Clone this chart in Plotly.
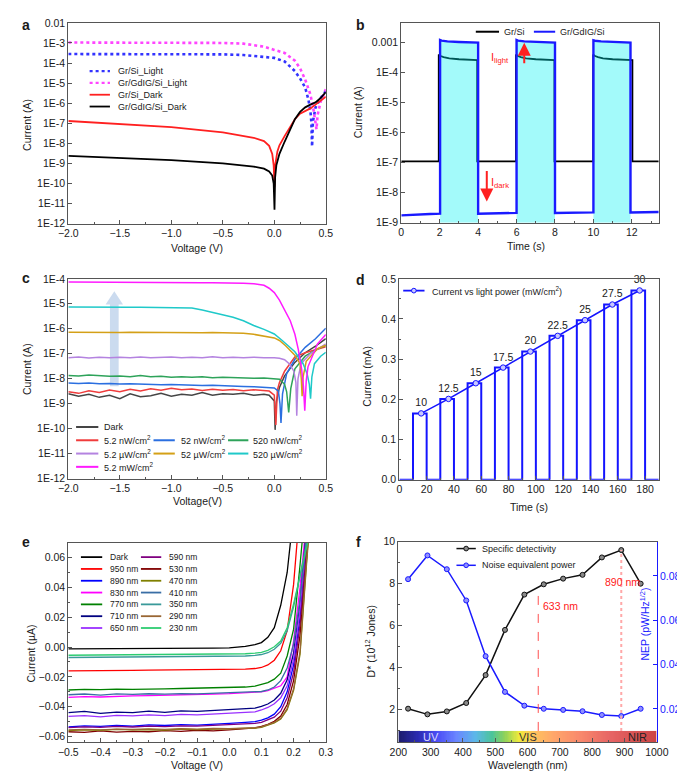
import numpy as np
import plotly.graph_objects as go

W, H = 685, 772
FONT = "Liberation Sans, Arial, Helvetica, sans-serif"
INK = "#1a1a1a"
AXC = "#555555"

# ======================= DATA =======================
# ---- (a) I-V curves (log) ----
a_names = ["Gr/Si_Light", "Gr/GdIG/Si_Light", "Gr/Si_Dark", "Gr/GdIG/Si_Dark"]
a_v_si_light = [-2.0, -1.5, -1.0, -0.5, -0.3, -0.1, 0.0, 0.1, 0.2, 0.25, 0.3, 0.33, 0.35, 0.36, 0.367, 0.375, 0.4, 0.45, 0.5]
a_i_si_light = [2.8e-4, 2.8e-4, 2.8e-4, 2.7e-4, 2.5e-4, 2.1e-4, 1.8e-4, 1.2e-4, 4.0e-5, 1.7e-5, 6.0e-6, 1.6e-6, 4.5e-7, 1.1e-7, 7e-9, 1.2e-7, 6e-7, 1.8e-6, 4e-6]
a_v_gd_light = [-2.0, -1.5, -1.0, -0.5, -0.3, -0.2, -0.1, 0.0, 0.1, 0.2, 0.25, 0.3, 0.35, 0.38, 0.4, 0.41, 0.42, 0.45, 0.5]
a_i_gd_light = [1.05e-3, 1.05e-3, 1.04e-3, 1.0e-3, 9.2e-4, 8.0e-4, 6.5e-4, 4.5e-4, 3.2e-4, 1.3e-4, 5.5e-5, 1.5e-5, 2.8e-6, 5e-7, 1.1e-7, 5e-8, 2.5e-7, 1.2e-6, 5e-6]
a_v_si_dark = [-2.0, -1.5, -1.0, -0.5, -0.3, -0.2, -0.1, -0.05, -0.02, -0.006, 0.002, 0.01, 0.03, 0.05, 0.1, 0.15, 0.2, 0.25, 0.3, 0.35, 0.4, 0.45, 0.5]
a_i_si_dark = [1.3e-7, 9.5e-8, 6.5e-8, 3.5e-8, 2.4e-8, 1.9e-8, 1.3e-8, 7.5e-9, 3e-9, 8e-10, 7e-11, 9e-10, 4e-9, 8e-9, 2.3e-8, 6e-8, 1.6e-7, 3e-7, 4.2e-7, 5.5e-7, 8.5e-7, 1.3e-6, 2.1e-6]
a_v_gd_dark = [-2.0, -1.5, -1.0, -0.5, -0.3, -0.2, -0.1, -0.05, -0.02, -0.006, 0.002, 0.008, 0.02, 0.05, 0.1, 0.15, 0.2, 0.25, 0.3, 0.35, 0.4, 0.45, 0.5]
a_i_gd_dark = [2.4e-9, 1.9e-9, 1.45e-9, 1.0e-9, 8.2e-10, 7e-10, 5.5e-10, 4e-10, 2.5e-10, 1e-10, 5e-12, 2e-10, 8e-10, 3e-9, 1.2e-8, 4.5e-8, 1.6e-7, 3.7e-7, 6.2e-7, 8.5e-7, 1.1e-6, 1.8e-6, 3.6e-6]
a_ytick_vals = [1e-12, 1e-11, 1e-10, 1e-9, 1e-8, 1e-7, 1e-6, 1e-5, 1e-4, 1e-3, 1e-2]
a_ytick_text = ["1E-12", "1E-11", "1E-10", "1E-9", "1E-8", "1E-7", "1E-6", "1E-5", "1E-4", "1E-3", "0.01"]

# ---- (b) on/off switching ----
b_names = ["Gr/Si", "Gr/GdIG/Si"]
b_t_black = [0, 1.95, 1.95, 2.05, 2.2, 2.5, 3.0, 3.5, 3.95, 3.95, 5.97, 5.97, 6.07, 6.22, 6.5, 7.0, 7.5, 7.97, 7.97,
             9.99, 9.99, 10.09, 10.24, 10.5, 11.0, 11.5, 12.03, 12.03, 13.4]
b_i_black = [1.1e-7, 1.1e-7, 4.0e-4, 3.6e-4, 3.3e-4, 3.0e-4, 2.8e-4, 2.7e-4, 2.6e-4, 1.1e-7, 1.1e-7, 4.0e-4, 3.6e-4, 3.3e-4, 3.0e-4, 2.8e-4, 2.7e-4, 2.6e-4, 1.1e-7,
             1.1e-7, 4.0e-4, 3.6e-4, 3.3e-4, 3.0e-4, 2.8e-4, 2.7e-4, 2.6e-4, 1.1e-7, 1.1e-7]
b_t_blue = [0, 0.5, 1.0, 1.5, 2.02, 2.02, 2.1, 2.4, 3.0, 3.5, 4.0, 4.0, 4.5, 5.0, 5.5, 6.0, 6.0, 6.08, 6.4, 7.0, 7.5, 8.0,
            8.0, 8.5, 9.0, 9.5, 10.0, 10.0, 10.08, 10.4, 11.0, 11.5, 11.93, 11.93, 12.5, 13.0, 13.4]
b_i_blue = [1.75e-9, 1.85e-9, 1.9e-9, 1.95e-9, 2.0e-9, 1.22e-3, 1.17e-3, 1.1e-3, 1.05e-3, 1.02e-3, 1.0e-3, 2.0e-9, 2.05e-9, 2.08e-9, 2.1e-9, 2.12e-9,
            1.22e-3, 1.17e-3, 1.1e-3, 1.05e-3, 1.02e-3, 1.0e-3, 2.1e-9, 2.12e-9, 2.15e-9, 2.18e-9, 2.2e-9, 1.2e-3, 1.16e-3, 1.1e-3, 1.05e-3, 1.02e-3, 1.0e-3,
            2.2e-9, 2.22e-9, 2.25e-9, 2.28e-9]
b_ytick_vals = [1e-9, 1e-8, 1e-7, 1e-6, 1e-5, 1e-4, 1e-3]
b_ytick_text = ["1E-9", "1E-8", "1E-7", "1E-6", "1E-5", "1E-4", "0.001"]

# ---- (c) I-V under various intensities (log) ----
c_names = ["Dark", "5.2 nW/cm<sup>2</sup>", "52 nW/cm<sup>2</sup>", "520 nW/cm<sup>2</sup>", "5.2 µW/cm<sup>2</sup>",
           "52 µW/cm<sup>2</sup>", "520 µW/cm<sup>2</sup>", "5.2 mW/cm<sup>2</sup>"]
c_v_flat = [-2.0, -1.9, -1.8, -1.7, -1.6, -1.5, -1.4, -1.3, -1.2, -1.1, -1.0, -0.9, -0.8, -0.7, -0.6, -0.5, -0.4, -0.3, -0.2, -0.1]
c_dark_flat = [2.5e-9, 2.0e-9, 2.4e-9, 1.8e-9, 2.2e-9, 1.6e-9, 2.5e-9, 1.9e-9, 2.1e-9, 2.6e-9, 2.0e-9, 2.4e-9, 2.2e-9, 2.8e-9, 2.2e-9, 2.5e-9, 2.4e-9, 2.6e-9, 2.2e-9, 2.4e-9]
c_dark_vt = [-0.05, 0.0, 0.008, 0.02, 0.05, 0.1, 0.2, 0.3, 0.4, 0.5]
c_dark_it = [2.2e-9, 1.3e-9, 9e-11, 1.2e-9, 4.5e-9, 1.3e-8, 4.5e-8, 1.1e-7, 2e-7, 4e-7]
c_n5_flat = [3.0e-9, 2.6e-9, 3.3e-9, 2.8e-9, 3.5e-9, 3.0e-9, 3.8e-9, 3.2e-9, 4.0e-9, 3.5e-9, 4.2e-9, 3.6e-9, 3.9e-9, 3.4e-9, 3.8e-9, 3.5e-9, 3.7e-9, 3.3e-9, 3.6e-9, 3.4e-9]
c_n5_vt = [-0.05, 0.0, 0.015, 0.03, 0.05, 0.1, 0.2, 0.3, 0.4, 0.5]
c_n5_it = [3.2e-9, 2.2e-9, 1.4e-10, 3.5e-9, 7e-9, 2e-8, 7.5e-8, 1.1e-7, 1.4e-7, 1.9e-7]
c_n52_flat = [6.8e-9, 6.5e-9, 6.7e-9, 6.3e-9, 6.5e-9, 6.1e-9, 6.3e-9, 6.0e-9, 6.1e-9, 5.8e-9, 5.9e-9, 5.6e-9, 5.7e-9, 5.4e-9, 5.5e-9, 5.2e-9, 5.1e-9, 4.9e-9, 4.8e-9, 4.6e-9]
c_n52_vt = [-0.05, 0.0, 0.04, 0.055, 0.065, 0.08, 0.12, 0.2, 0.3, 0.4, 0.5]
c_n52_it = [4.5e-9, 4.3e-9, 3.2e-9, 1e-9, 1.7e-10, 2.5e-9, 1.6e-8, 6e-8, 1.8e-7, 4e-7, 1.05e-6]
c_n520_flat = [1.35e-8, 1.3e-8, 1.4e-8, 1.3e-8, 1.25e-8, 1.3e-8, 1.2e-8, 1.35e-8, 1.2e-8, 1.25e-8, 1.15e-8, 1.2e-8, 1.15e-8, 1.2e-8, 1.1e-8, 1.15e-8, 1.1e-8, 1.12e-8, 1.05e-8, 1.08e-8]
c_n520_vt = [-0.05, 0.0, 0.05, 0.1, 0.12, 0.14, 0.16, 0.2, 0.3, 0.4, 0.5]
c_n520_it = [1.05e-8, 1.0e-8, 9.5e-9, 6e-9, 3e-9, 4.5e-10, 4e-9, 2.5e-8, 8e-8, 1.4e-7, 2.2e-7]
c_u5_flat = [7.0e-8, 7.4e-8, 6.8e-8, 7.2e-8, 6.9e-8, 7.3e-8, 7.0e-8, 7.5e-8, 6.9e-8, 7.1e-8, 7.4e-8, 7.0e-8, 7.3e-8, 6.9e-8, 7.6e-8, 7.0e-8, 7.2e-8, 6.9e-8, 7.3e-8, 7.0e-8]
c_u5_vt = [-0.05, 0.0, 0.05, 0.1, 0.15, 0.19, 0.21, 0.218, 0.23, 0.26, 0.35, 0.5]
c_u5_it = [7.1e-8, 6.9e-8, 6.6e-8, 5.8e-8, 3.8e-8, 2e-8, 7e-9, 3.3e-10, 1e-8, 4e-8, 1e-7, 2.5e-7]
c_u52_flat = [7.3e-7, 7.2e-7, 7.4e-7, 7.2e-7, 7.3e-7, 7.1e-7, 7.3e-7, 7.2e-7, 7.2e-7, 7.1e-7, 7.2e-7, 7.1e-7, 7.1e-7, 7.0e-7, 7.1e-7, 7.0e-7, 6.9e-7, 6.6e-7, 6.0e-7, 5.2e-7]
c_u52_vt = [-0.05, 0.0, 0.05, 0.11, 0.2, 0.25, 0.262, 0.27, 0.28, 0.31, 0.42, 0.5]
c_u52_it = [4.8e-7, 4.3e-7, 3.4e-7, 2.1e-7, 8.7e-8, 4e-8, 1e-8, 2e-9, 1.2e-8, 5e-8, 1.6e-7, 2.2e-7]
c_u520_flat = [7.4e-6, 7.3e-6, 7.4e-6, 7.3e-6, 7.4e-6, 7.3e-6, 7.2e-6, 7.3e-6, 7.2e-6, 7.3e-6, 7.2e-6, 7.2e-6, 6.8e-6, 5.6e-6, 4.5e-6, 3.6e-6, 2.9e-6, 2.1e-6, 1.35e-6, 9.5e-7]
c_u520_vt = [-0.05, 0.0, 0.077, 0.2, 0.28, 0.32, 0.34, 0.352, 0.365, 0.39, 0.45, 0.5]
c_u520_it = [7.5e-7, 6.2e-7, 3.4e-7, 1.2e-7, 4e-8, 1.5e-8, 6e-9, 1.6e-9, 1.2e-8, 4e-8, 8e-8, 1.15e-7]
c_m5_flat = [7.4e-5, 7.4e-5, 7.3e-5, 7.3e-5, 7.3e-5, 7.2e-5, 7.2e-5, 7.2e-5, 7.1e-5, 7.1e-5, 7.1e-5, 7.0e-5, 7.0e-5, 7.0e-5, 6.9e-5, 6.9e-5, 6.8e-5, 6.7e-5, 6.4e-5, 5.5e-5]
c_m5_vt = [-0.05, 0.0, 0.05, 0.1, 0.155, 0.2, 0.233, 0.265, 0.283, 0.296, 0.31, 0.327, 0.42, 0.5]
c_m5_it = [4.2e-5, 2.8e-5, 1.4e-5, 6e-6, 2.1e-6, 6e-7, 1.5e-7, 2.5e-8, 5e-9, 5.2e-10, 8e-9, 3e-8, 2.5e-7, 5.9e-7]
c_colors = ["#454545", "#f03c3c", "#2b6fe0", "#2ea35a", "#b483e0", "#d4a017", "#1fc9c9", "#ff1aff"]
c_ytick_vals = [1e-12, 1e-11, 1e-10, 1e-9, 1e-8, 1e-7, 1e-6, 1e-5, 1e-4]
c_ytick_text = ["1E-12", "1E-11", "1E-10", "1E-9", "1E-8", "1E-7", "1E-6", "1E-5", "1E-4"]

# ---- (d) current vs light power ----
d_t = [0, 10, 10, 20, 20, 30, 30, 40, 40, 50, 50, 60, 60, 70, 70, 80, 80, 90, 90, 100, 100, 110, 110, 120, 120,
       130, 130, 140, 140, 150, 150, 160, 160, 170, 170, 180, 180, 190]
d_i = [0, 0, 0.165, 0.165, 0, 0, 0.201, 0.201, 0, 0, 0.240, 0.240, 0, 0, 0.279, 0.279, 0, 0, 0.319, 0.319, 0, 0,
       0.358, 0.358, 0, 0, 0.397, 0.397, 0, 0, 0.436, 0.436, 0, 0, 0.471, 0.471, 0, 0]
d_power = [10, 12.5, 15, 17.5, 20, 22.5, 25, 27.5, 30]
d_mark_t = [16, 36, 56, 76, 96, 116, 136, 156, 176]
d_mark_i = [0.165, 0.201, 0.240, 0.279, 0.319, 0.358, 0.397, 0.436, 0.471]

# ---- (e) I-V at different wavelengths (linear) ----
e_v = [-0.5, -0.45, -0.4, -0.35, -0.3, -0.25, -0.2, -0.15, -0.1, -0.05, 0.0, 0.05, 0.08, 0.1, 0.12, 0.14, 0.16, 0.18, 0.2, 0.22, 0.24, 0.26]
e_dark = [-0.0012, -0.0012, -0.0011, -0.0011, -0.0010, -0.0010, -0.0009, -0.0009, -0.0008, -0.0007, -0.0005, 0.0004, 0.0016, 0.003, 0.0065, 0.013, 0.028, 0.050, 0.090, 0.14, 0.2, 0.26]
e_950 = [-0.0160, -0.0158, -0.0157, -0.0158, -0.0156, -0.0155, -0.0154, -0.0155, -0.0153, -0.0152, -0.0150, -0.0148, -0.0144, -0.0137, -0.0120, -0.0088, -0.0025, 0.0110, 0.042, 0.095, 0.15, 0.2]
e_890 = [-0.0535, -0.0528, -0.0532, -0.0525, -0.0530, -0.0522, -0.0526, -0.0520, -0.0523, -0.0515, -0.0512, -0.0505, -0.0500, -0.0490, -0.0475, -0.0450, -0.0400, -0.0300, -0.0120, 0.020, 0.075, 0.13]
e_830 = [-0.0338, -0.0332, -0.0335, -0.0330, -0.0328, -0.0326, -0.0322, -0.0320, -0.0318, -0.0315, -0.0312, -0.0308, -0.0305, -0.0300, -0.0292, -0.0278, -0.0260, -0.0200, 0.0040, 0.040, 0.085, 0.13]
e_770 = [-0.0288, -0.0284, -0.0286, -0.0282, -0.0284, -0.0280, -0.0281, -0.0278, -0.0276, -0.0274, -0.0272, -0.0268, -0.0262, -0.0252, -0.0238, -0.0215, -0.0175, -0.0060, 0.012, 0.055, 0.10, 0.15]
e_710 = [-0.0440, -0.0432, -0.0445, -0.0436, -0.0440, -0.0430, -0.0438, -0.0428, -0.0432, -0.0425, -0.0420, -0.0415, -0.0410, -0.0398, -0.0382, -0.0355, -0.0310, -0.0220, -0.0040, 0.030, 0.080, 0.13]
e_650 = [-0.0465, -0.0460, -0.0468, -0.0458, -0.0462, -0.0455, -0.0460, -0.0452, -0.0455, -0.0450, -0.0446, -0.0440, -0.0435, -0.0422, -0.0405, -0.0380, -0.0340, -0.0260, -0.0080, 0.025, 0.075, 0.125]
e_590 = [-0.0540, -0.0535, -0.0538, -0.0532, -0.0536, -0.0530, -0.0533, -0.0528, -0.0530, -0.0525, -0.0522, -0.0518, -0.0512, -0.0505, -0.0490, -0.0470, -0.0430, -0.0340, -0.0170, 0.015, 0.065, 0.12]
e_530 = [-0.0568, -0.0572, -0.0562, -0.0570, -0.0565, -0.0568, -0.0560, -0.0566, -0.0558, -0.0562, -0.0555, -0.0548, -0.0542, -0.0532, -0.0518, -0.0498, -0.0462, -0.0385, -0.0225, 0.008, 0.055, 0.11]
e_470 = [-0.0560, -0.0555, -0.0558, -0.0552, -0.0556, -0.0553, -0.0557, -0.0550, -0.0554, -0.0551, -0.0553, -0.0548, -0.0544, -0.0538, -0.0525, -0.0508, -0.0482, -0.0420, -0.0290, -0.0050, 0.055, 0.11]
e_410 = [-0.0320, -0.0315, -0.0322, -0.0314, -0.0318, -0.0313, -0.0316, -0.0312, -0.0314, -0.0310, -0.0309, -0.0306, -0.0303, -0.0298, -0.0288, -0.0268, -0.0225, -0.0140, 0.0020, 0.032, 0.075, 0.12]
e_350 = [-0.0070, -0.0069, -0.0070, -0.0068, -0.0069, -0.0067, -0.0068, -0.0066, -0.0066, -0.0064, -0.0063, -0.0060, -0.0056, -0.0050, -0.0038, -0.0015, 0.0025, 0.0110, 0.0270, 0.049, 0.070, 0.09]
e_290 = [-0.0555, -0.0552, -0.0556, -0.0550, -0.0553, -0.0549, -0.0552, -0.0547, -0.0550, -0.0546, -0.0548, -0.0545, -0.0541, -0.0535, -0.0522, -0.0505, -0.0478, -0.0412, -0.0280, -0.0030, 0.057, 0.112]
e_230 = [-0.0055, -0.0054, -0.0054, -0.0053, -0.0053, -0.0052, -0.0052, -0.0051, -0.0050, -0.0049, -0.0048, -0.0045, -0.0041, -0.0035, -0.0022, 0.0002, 0.0040, 0.0130, 0.0290, 0.048, 0.066, 0.085]
e_names = ["Dark", "950 nm", "890 nm", "830 nm", "770 nm", "710 nm", "650 nm",
           "590 nm", "530 nm", "470 nm", "410 nm", "350 nm", "290 nm", "230 nm"]
e_colors = ["#000000", "#ff0000", "#0000ff", "#ff00ff", "#008000", "#000080", "#9a30ff",
            "#800080", "#800000", "#808000", "#3a6ea5", "#3a9a9a", "#996633", "#2ecc71"]

# ---- (f) detectivity / NEP ----
f_wl = [230, 290, 350, 410, 470, 530, 590, 650, 710, 770, 830, 890, 950]
f_dstar = [2.05, 1.78, 1.92, 2.32, 3.65, 5.8, 7.48, 7.97, 8.24, 8.42, 9.25, 9.6, 8.0]
f_nep = [0.0785, 0.0892, 0.0830, 0.0689, 0.0438, 0.0277, 0.0215, 0.0201, 0.0196, 0.0190, 0.0173, 0.0168, 0.0201]
f_names = ["Specific detectivity", "Noise equivalent power"]
f_marks_nm = [633, 890]
band_wl = [200, 260, 320, 380, 440, 490, 530, 575, 620, 680, 760, 860, 1000]
band_col = ["#1c1c6b", "#2a2ab0", "#4a4cf5", "#6a86ff", "#5cb8e8", "#4cc49a", "#8fd25a", "#f0ea3c",
            "#ffc25e", "#ffa76a", "#f98a6c", "#e66464", "#cc4444"]
band_labels = ["UV", "VIS", "NIR"]
band_label_nm = [302, 600, 940]

# ======================= FIGURE =======================
def PX(x):
    return x / W

def PY(y):
    return 1 - y / H

fig = go.Figure()
shapes, annos = [], []

def axis(dom, anchor, **kw):
    base = dict(domain=dom, anchor=anchor, showline=True, linecolor=AXC, linewidth=1.2, mirror=True,
                ticks="inside", ticklen=4, tickwidth=1, tickcolor=AXC, showgrid=False, zeroline=False,
                tickfont=dict(size=10.5, color=INK, family=FONT))
    base.update(kw)
    return base

def minor(dt):
    return dict(ticks="inside", ticklen=2, dtick=dt, tickcolor=AXC, showgrid=False)

def text(px, py, s, size=10.5, color=INK, angle=0, xa="center", ya="middle", bold=False):
    annos.append(dict(xref="paper", yref="paper", x=PX(px), y=PY(py), text=("<b>%s</b>" % s) if bold else s,
                      showarrow=False, textangle=angle, xanchor=xa, yanchor=ya,
                      font=dict(size=size, color=color, family=FONT)))

def leg(x0, x1, tx, y, name, color, width=2, dash="solid", marker=None, size=9):
    shapes.append(dict(type="line", xref="paper", yref="paper", x0=PX(x0), x1=PX(x1), y0=PY(y), y1=PY(y),
                       line=dict(color=color, width=width, dash=dash)))
    if marker:
        cx, r = (x0 + x1) / 2, 2.4
        shapes.append(dict(type="circle", xref="paper", yref="paper", x0=PX(cx - r), x1=PX(cx + r),
                           y0=PY(y + r), y1=PY(y - r), fillcolor=marker, line=dict(color=color, width=1)))
    text(tx, y, name, size=size, xa="left")

# domains (pixel boxes)
dom_x_left = [PX(52), PX(318)]
dom_x_b = [PX(396), PX(662)]
dom_x_d = [PX(394), PX(662)]
dom_x_f = [PX(393), PX(660)]

# ---- (a) ----
a_series = [(a_v_si_light, a_i_si_light, "#3333ff", "dot", 2.6),
            (a_v_gd_light, a_i_gd_light, "#ff44ff", "dot", 2.6),
            (a_v_si_dark, a_i_si_dark, "#ff2020", "solid", 1.8),
            (a_v_gd_dark, a_i_gd_dark, "#000000", "solid", 1.8)]
for (v, i, c, dsh, w), nm in zip(a_series, a_names):
    fig.add_trace(go.Scatter(x=v, y=i, mode="lines", name=nm, line=dict(color=c, dash=dsh, width=w),
                             xaxis="x", yaxis="y", showlegend=False))
for k, ((v, i, c, dsh, w), nm) in enumerate(zip(a_series, a_names)):
    leg(74, 95, 101, 58 + 12 * k, nm, c, width=2.2 if dsh == "dot" else 1.8, dash=dsh)

# ---- (b) ----
fig.add_trace(go.Scatter(x=b_t_black, y=b_i_black, mode="lines", name=b_names[0],
                         line=dict(color="#000000", width=1.8), xaxis="x2", yaxis="y2", showlegend=False))
b_bottom = b_ytick_vals[0]
fx, fy, seg = [], [], []
for t, i in list(zip(b_t_blue, b_i_blue)) + [(None, 0)]:
    if t is not None and i > 1e-6:
        seg.append((t, i))
    elif seg:
        fx += [seg[0][0]] + [p[0] for p in seg] + [seg[-1][0], None]
        fy += [b_bottom] + [p[1] for p in seg] + [b_bottom, None]
        seg = []
fig.add_trace(go.Scatter(x=fx, y=fy, mode="none", fill="toself", fillcolor="rgba(0,240,240,0.36)",
                         xaxis="x2", yaxis="y2", showlegend=False, hoverinfo="skip"))
fig.add_trace(go.Scatter(x=b_t_blue, y=b_i_blue, mode="lines", name=b_names[1],
                         line=dict(color="#1a1aff", width=2.4), xaxis="x2", yaxis="y2", showlegend=False))
leg(473, 497, 500, 18, b_names[0], "#000000", width=2)
leg(533, 555, 558, 18, b_names[1], "#1a1aff", width=2)
annos.append(dict(xref="x2", yref="y2", x=5.15, y=-3.52, text="I<sub>light</sub>", showarrow=False,
                  font=dict(size=11, color="#ff2020", family=FONT)))
annos.append(dict(xref="x2", yref="y2", x=5.15, y=-7.69, text="I<sub>dark</sub>", showarrow=False,
                  font=dict(size=11, color="#ff2020", family=FONT)))
annos.append(dict(xref="x2", yref="y2", x=6.4, y=-3.0, ax=0, ay=22, text="", showarrow=True,
                  arrowhead=2, arrowsize=1.3, arrowwidth=2, arrowcolor="#ff2020"))
annos.append(dict(xref="x2", yref="y2", x=4.45, y=-8.29, ax=0, ay=-32, text="", showarrow=True,
                  arrowhead=2, arrowsize=1.3, arrowwidth=2, arrowcolor="#ff2020"))

# ---- (c) ----
c_series = [(c_dark_flat, c_dark_vt, c_dark_it), (c_n5_flat, c_n5_vt, c_n5_it), (c_n52_flat, c_n52_vt, c_n52_it),
            (c_n520_flat, c_n520_vt, c_n520_it), (c_u5_flat, c_u5_vt, c_u5_it), (c_u52_flat, c_u52_vt, c_u52_it),
            (c_u520_flat, c_u520_vt, c_u520_it), (c_m5_flat, c_m5_vt, c_m5_it)]
# translucent guide arrow (decoration, pixel geometry)
arrow_pts = [(95, 378), (95, 295), (90.5, 295), (99.5, 281.5), (108.5, 295), (104, 295), (104, 378)]
path = "M " + " L ".join("%.5f,%.5f" % (PX(x), PY(y)) for x, y in arrow_pts) + " Z"
shapes.append(dict(type="path", xref="paper", yref="paper", path=path, fillcolor="rgba(160,190,225,0.55)",
                   line=dict(width=0), layer="below"))
for (flat, vt, it), nm, col in zip(c_series, c_names, c_colors):
    fig.add_trace(go.Scatter(x=c_v_flat + vt, y=flat + it, mode="lines", name=nm, line=dict(color=col, width=1.5),
                             xaxis="x3", yaxis="y3", showlegend=False))
c_grid = [(0, 0), (0, 1), (1, 1), (2, 1), (0, 2), (1, 2), (2, 2), (0, 3)]
c_cols = [(60, 83, 87), (140, 162, 166), (217, 238, 241)]
c_rows = [419.5, 433, 446.5, 460]
for (ci, ri), nm, col in zip(c_grid, c_names, c_colors):
    x0, x1, tx = c_cols[ci]
    leg(x0, x1, tx, c_rows[ri], nm, col, width=2)

# ---- (d) ----
fig.add_trace(go.Scatter(x=d_t, y=d_i, mode="lines", line=dict(color="#1414ff", width=2), xaxis="x4", yaxis="y4",
                         showlegend=False, cliponaxis=False))
fig.add_trace(go.Scatter(x=d_mark_t, y=d_mark_i, mode="lines+markers+text", text=["%g" % p for p in d_power],
                         textposition="top center", textfont=dict(size=10.5, color=INK, family=FONT),
                         line=dict(color="#1414ff", width=1.5), cliponaxis=False,
                         marker=dict(size=5.5, color="#c8c8ff", line=dict(color="#1414ff", width=1)),
                         xaxis="x4", yaxis="y4", showlegend=False))
leg(398, 420, 426, 281, "Current vs light power (mW/cm<sup>2</sup>)", "#1414ff", width=1.8, marker="#c8c8ff")

# ---- (e) ----
e_series = [e_dark, e_950, e_890, e_830, e_770, e_710, e_650, e_590, e_530, e_470, e_410, e_350, e_290, e_230]
for vals, nm, col in zip(e_series, e_names, e_colors):
    fig.add_trace(go.Scatter(x=e_v, y=vals, mode="lines", name=nm, line=dict(color=col, width=1.3),
                             xaxis="x5", yaxis="y5", showlegend=False))
for k, (nm, col) in enumerate(zip(e_names, e_colors)):
    r = k % 7
    if k < 7:
        leg(65, 87, 93, 551.7 + 12 * r, nm, col, width=1.8, size=8.5)
    else:
        leg(127, 148, 154, 551.7 + 12 * r, nm, col, width=1.8, size=8.5)

# ---- (f) ----
edges = np.arange(200, 1001, 4)
centers = (edges[:-1] + edges[1:]) / 2
cscale = [[(w - band_wl[0]) / (band_wl[-1] - band_wl[0]), c] for w, c in zip(band_wl, band_col)]
f_yrange = [0.44, 10]
band_top = 0.99
fig.add_trace(go.Heatmap(x=edges, y=[f_yrange[0], band_top], z=[centers], colorscale=cscale, zmin=200, zmax=1000,
                         showscale=False, hoverinfo="skip", xaxis="x6", yaxis="y6"))
for nm_wl in f_marks_nm:
    ytop = float(np.interp(nm_wl, f_wl, f_dstar))
    is633 = nm_wl == 633
    shapes.append(dict(type="line", xref="x6", yref="y6", x0=nm_wl, x1=nm_wl, y0=band_top, y1=ytop,
                       line=dict(color="#ff5050" if is633 else "#ffa8a8", width=1 if is633 else 2,
                                 dash="dash" if is633 else "dot")))
annos.append(dict(xref="x6", yref="y6", x=640, y=6.95, text="633 nm", showarrow=False, xanchor="left",
                  font=dict(size=10.5, color="#ff2020", family=FONT)))
annos.append(dict(xref="x6", yref="y6", x=835, y=8.08, text="890 nm", showarrow=False, xanchor="left",
                  font=dict(size=10.5, color="#ff2020", family=FONT)))
for lab, wl, col in zip(band_labels, band_label_nm, ["#d8d8ff", "#333333", "#222222"]):
    annos.append(dict(xref="x6", yref="y6", x=wl, y=(f_yrange[0] + band_top) / 2, text=lab, showarrow=False,
                      font=dict(size=11, color=col, family=FONT)))
fig.add_trace(go.Scatter(x=f_wl, y=f_dstar, mode="lines+markers", name=f_names[0], line=dict(color="#111111", width=1.5),
                         marker=dict(size=5, color="#8a8a8a", line=dict(color="#111111", width=1)),
                         xaxis="x6", yaxis="y6", showlegend=False))
fig.add_trace(go.Scatter(x=f_wl, y=f_nep, mode="lines+markers", name=f_names[1], line=dict(color="#1a1aff", width=1.5),
                         marker=dict(size=5, color="#9090ff", line=dict(color="#1a1aff", width=1)),
                         xaxis="x6", yaxis="y7", showlegend=False))
leg(453, 473, 477, 543, f_names[0], "#111111", width=1.5, marker="#8a8a8a")
leg(453, 473, 477, 560, f_names[1], "#1a1aff", width=1.5, marker="#9090ff")

# ---- axis titles & panel labels ----
text(185, 238, "Voltage (V)")
text(10, 113, "Current (A)", angle=-90)
text(525, 236, "Time (s)")
text(352, 100, "Current (A)", angle=-90)
text(185, 495, "Voltage(V)")
text(10, 361, "Current (A)", angle=-90)
text(528, 501, "Time (s)")
text(361, 368, "Current (mA)", angle=-90)
text(185, 763, "Voltage (V)")
text(13, 650, "Current (µA)", angle=-90)
text(527, 763, "Wavelength (nm)")
text(363, 637, "D* (10<sup>12</sup> Jones)", angle=-90)
text(647, 620, "NEP (pW/Hz<sup>1/2</sup>)", angle=-90, color="#1a1aff")
for lab, (x, y) in zip("abcdef", [(2, 1), (347, 1), (2, 258), (347, 260), (2, 526), (347, 526)]):
    text(x, y, lab, size=14, xa="left", ya="top", bold=True)

fig.update_layout(
    width=W, height=H, margin=dict(l=0, r=0, t=0, b=0), paper_bgcolor="white", plot_bgcolor="white",
    font=dict(family=FONT, color=INK), showlegend=False,
    xaxis=axis(dom_x_left, "y", range=[-2, 0.5], dtick=0.5, tickformat=".1f", minor=minor(0.25)),
    yaxis=axis([PY(213), PY(9)], "x", type="log", range=[-12, -2], tickvals=a_ytick_vals, ticktext=a_ytick_text),
    xaxis2=axis(dom_x_b, "y2", range=[0, 13.4], dtick=2, minor=minor(1)),
    yaxis2=axis([PY(212), PY(9)], "x2", type="log", range=[-9, -2.34], tickvals=b_ytick_vals, ticktext=b_ytick_text),
    xaxis3=axis(dom_x_left, "y3", range=[-2, 0.5], dtick=0.5, tickformat=".1f", minor=minor(0.25)),
    yaxis3=axis([PY(472), PY(269)], "x3", type="log", range=[-12, -4], tickvals=c_ytick_vals, ticktext=c_ytick_text),
    xaxis4=axis(dom_x_d, "y4", range=[0, 190], dtick=20, minor=minor(10)),
    yaxis4=axis([PY(473), PY(269)], "x4", range=[0, 0.5], dtick=0.1, tickformat=".1f", minor=minor(0.05)),
    xaxis5=axis(dom_x_left, "y5", range=[-0.5, 0.3], dtick=0.1, tickformat=".1f", minor=minor(0.05)),
    yaxis5=axis([PY(740), PY(537)], "x5", range=[-0.064, 0.07], dtick=0.02, tickformat=".2f", minor=minor(0.01)),
    xaxis6=axis(dom_x_f, "y6", range=[200, 1000], dtick=100, minor=minor(50)),
    yaxis6=axis([PY(740), PY(536)], "x6", range=f_yrange, tickvals=[2, 4, 6, 8, 10], mirror=False, minor=minor(1)),
    yaxis7=axis([PY(740), PY(536)], "x6", overlaying="y6", side="right", range=[0.0049, 0.0954],
                tickvals=[0.02, 0.04, 0.06, 0.08], mirror=False, linecolor="#1a1aff", tickcolor="#1a1aff",
                tickfont=dict(size=10.5, color="#1a1aff", family=FONT)),
    shapes=shapes, annotations=annos,
)

fig.write_html("out.html")
